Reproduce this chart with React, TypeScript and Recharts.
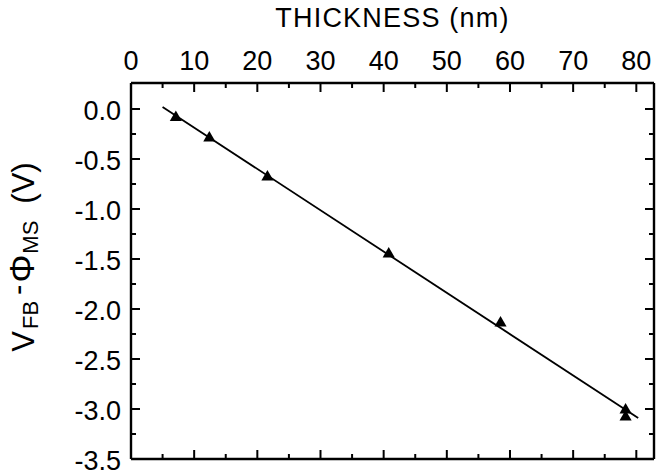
import React from "react";
import { ScatterChart, Scatter, XAxis, YAxis, ZAxis, Label } from "recharts";

const FONT = "'Liberation Sans', Arial, Helvetica, sans-serif";

// measured points: oxide thickness (nm) vs V_FB - Phi_MS (V)
const thickness = [7.1, 12.4, 21.6, 40.8, 58.5, 78.3, 78.3];
const vfbShift = [-0.085, -0.29, -0.68, -1.45, -2.14, -3.01, -3.08];

// linear fit, end points as drawn
const fitThickness = [5.0, 80.3];
const fitShift = [0.02, -3.09];

const xTicks = [0, 5, 10, 15, 20, 25, 30, 35, 40, 45, 50, 55, 60, 65, 70, 75, 80];
const yTicks = [0, -0.25, -0.5, -0.75, -1, -1.25, -1.5, -1.75, -2, -2.25, -2.5, -2.75, -3, -3.25, -3.5];
const xDomain: [number, number] = [0, 82.8];
const yDomain: [number, number] = [-3.5, 0.26];

const points = thickness.map((t, i) => ({ x: t, y: vfbShift[i] }));
const fitLine = fitThickness.map((t, i) => ({ x: t, y: fitShift[i] }));

const isMajorX = (v: number) => v % 10 === 0;
const isMajorY = (v: number) => Math.abs(v * 2 - Math.round(v * 2)) < 1e-6;

// inward ticks; labels only on top and left
function makeTick(side: "top" | "bottom" | "left" | "right") {
  return (props: any) => {
    const { x, y, payload } = props;
    const v = payload.value as number;
    const major = side === "top" || side === "bottom" ? isMajorX(v) : isMajorY(v);
    const len = major ? 9 : 5;
    let line;
    if (side === "top") line = <line x1={x} y1={y} x2={x} y2={y + len} stroke="#000" strokeWidth={2} />;
    else if (side === "bottom") line = <line x1={x} y1={y} x2={x} y2={y - len} stroke="#000" strokeWidth={2} />;
    else if (side === "left") line = <line x1={x} y1={y} x2={x + len} y2={y} stroke="#000" strokeWidth={2} />;
    else line = <line x1={x} y1={y} x2={x - len} y2={y} stroke="#000" strokeWidth={2} />;
    let text = null;
    if (major && side === "top") {
      text = (
        <text x={x} y={y - 13} textAnchor="middle" fontSize={27} fontFamily={FONT} fill="#000">
          {v}
        </text>
      );
    } else if (major && side === "left") {
      text = (
        <text x={x - 10} y={y + 11} textAnchor="end" fontSize={27} fontFamily={FONT} fill="#000">
          {v.toFixed(1)}
        </text>
      );
    }
    return (
      <g>
        {line}
        {text}
      </g>
    );
  };
}

const TitleLabel = (props: any) => {
  const vb = props.viewBox;
  return (
    <text
      x={vb.x + vb.width / 2}
      y={27}
      textAnchor="middle"
      fontSize={27}
      letterSpacing={1.2}
      fontFamily={FONT}
      fill="#000"
    >
      THICKNESS (nm)
    </text>
  );
};

const YTitle = (props: any) => {
  const vb = props.viewBox;
  const cx = vb.x + 34;
  const cy = vb.y + vb.height / 2 - 14;
  return (
    <text
      x={cx}
      y={cy}
      transform={`rotate(-90 ${cx} ${cy})`}
      textAnchor="middle"
      fontSize={31}
      fontFamily={FONT}
      fill="#000"
    >
      V
      <tspan fontSize={22} dx={2} dy={4}>FB</tspan>
      <tspan dx={6} dy={-10}>-</tspan>
      <tspan fontSize={35} dx={2} dy={6}>Φ</tspan>
      <tspan fontSize={22} dx={1} dy={4}>MS</tspan>
      <tspan dx={17} dy={-4}>(V)</tspan>
    </text>
  );
};

export default function App() {
  return (
    <div style={{ position: "absolute", left: 0, top: 0, background: "#fff" }}>
      <ScatterChart width={657} height={475} margin={{ top: 0, right: 2, bottom: 15, left: 0 }}>
        <XAxis
          xAxisId="top"
          orientation="top"
          type="number"
          dataKey="x"
          domain={xDomain}
          ticks={xTicks}
          interval={0}
          height={83}
          tickSize={0}
          tickMargin={0}
          tick={makeTick("top")}
          axisLine={{ stroke: "#000", strokeWidth: 2.4 }}
          allowDataOverflow
        >
          <Label content={TitleLabel} />
        </XAxis>
        <XAxis
          xAxisId="bottom"
          orientation="bottom"
          type="number"
          dataKey="x"
          domain={xDomain}
          ticks={xTicks}
          interval={0}
          height={1}
          tickSize={0}
          tickMargin={0}
          tick={makeTick("bottom")}
          axisLine={{ stroke: "#000", strokeWidth: 2.4 }}
          allowDataOverflow
        />
        <YAxis
          yAxisId="left"
          orientation="left"
          type="number"
          dataKey="y"
          domain={yDomain}
          ticks={yTicks}
          interval={0}
          width={131}
          tickSize={0}
          tickMargin={0}
          tick={makeTick("left")}
          axisLine={{ stroke: "#000", strokeWidth: 2.4 }}
          allowDataOverflow
        >
          <Label content={YTitle} />
        </YAxis>
        <YAxis
          yAxisId="right"
          orientation="right"
          type="number"
          dataKey="y"
          domain={yDomain}
          ticks={yTicks}
          interval={0}
          width={1}
          tickSize={0}
          tickMargin={0}
          tick={makeTick("right")}
          axisLine={{ stroke: "#000", strokeWidth: 2.4 }}
          allowDataOverflow
        />
        <ZAxis range={[100, 100]} />
        <Scatter
          data={fitLine}
          xAxisId="bottom"
          yAxisId="right"
          line={{ stroke: "#000", strokeWidth: 1.8 }}
          shape={() => <g />}
          isAnimationActive={false}
        />
        <Scatter
          data={points}
          xAxisId="top"
          yAxisId="left"
          fill="#000"
          shape="triangle"
          isAnimationActive={false}
        />
      </ScatterChart>
    </div>
  );
}
